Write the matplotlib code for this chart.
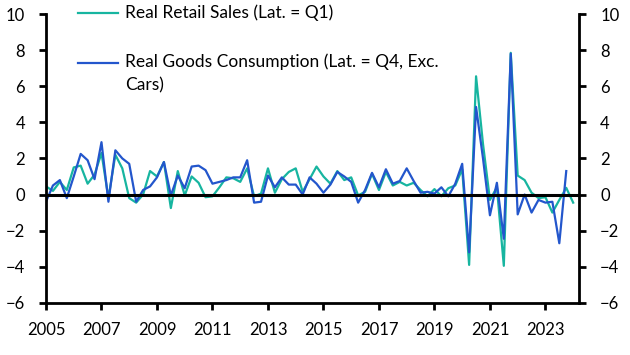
import matplotlib
matplotlib.use('Agg')
import matplotlib.pyplot as plt
from matplotlib.lines import Line2D
import numpy as np

plt.rcParams.update({
    'font.family': ['Lato', 'DejaVu Sans'],
    'font.size': 12,
})

# quarterly, % q/q
START_YEAR = 2005
RETAIL_LABEL = 'Real Retail Sales (Lat. = Q1)'
GOODS_LABEL = 'Real Goods Consumption (Lat. = Q4, Exc.\nCars)'

retail = [
    0.45, 0.2, 0.7, 0.25, 1.5, 1.6, 0.6, 1.1, 2.3, -0.2,
    2.2, 1.45, -0.2, -0.45, 0.0, 1.3, 1.0, 1.8, -0.75, 1.3,
    -0.05, 1.0, 0.65, -0.15, -0.1, 0.4, 0.95, 0.9, 0.7, 1.45,
    -0.1, 0.05, 1.45, 0.1, 0.85, 1.25, 1.45, 0.15, 0.85, 1.55,
    1.0, 0.6, 1.3, 0.8, 0.95, -0.05, 0.15, 1.15, 0.25, 1.25,
    0.5, 0.7, 0.5, 0.65, 0.25, -0.1, 0.3, -0.1, 0.35, 0.5,
    1.4, -3.9, 6.55, 2.8, -0.3, 0.4, -3.95, 7.85, 1.05, 0.8,
    0.1, -0.2, -0.15, -1.0, -0.3, 0.37, -0.45,
]

goods = [
    -0.4, 0.5, 0.8, -0.2, 1.0, 2.25, 1.9, 0.85, 2.9, -0.4,
    2.45, 2.0, 1.7, -0.4, 0.25, 0.45, 0.95, 1.8, -0.05, 1.05,
    0.35, 1.55, 1.6, 1.35, 0.6, 0.7, 0.8, 0.95, 0.95, 1.9,
    -0.45, -0.4, 1.05, 0.4, 0.95, 0.55, 0.55, 0.0, 0.95, 0.6,
    0.1, 0.55, 1.25, 1.0, 0.7, -0.45, 0.25, 1.2, 0.4, 1.4,
    0.6, 0.75, 1.45, 0.75, 0.1, 0.15, 0.05, 0.4, -0.1, 0.6,
    1.7, -3.2, 4.85, 2.0, -1.15, 0.65, -2.45, 7.8, -1.1, 0.0,
    -1.0, -0.3, -0.45, -0.4, -2.7, 1.3,
]

X_TICKS = list(range(2005, 2024, 2))
Y_TICKS = list(range(-6, 11, 2))

TEAL = '#17b5a0'
BLUE = '#2356cc'


def main():
    x_retail = START_YEAR + np.arange(len(retail)) / 4
    x_goods = START_YEAR + np.arange(len(goods)) / 4

    fig = plt.figure(figsize=(6.3, 3.55), dpi=100)
    ax = fig.add_axes([0.073, 0.147, 0.8465, 0.8135])

    ax.plot(x_retail, retail, color=TEAL, lw=1.6, zorder=2)
    ax.plot(x_goods, goods, color=BLUE, lw=1.6, zorder=2.5)
    ax.axhline(0, color='black', lw=2.2, zorder=3)

    ax.set_xlim(2005, 2024.22)
    ax.set_ylim(-6, 10)
    ax.set_xticks(X_TICKS)
    ax.set_yticks(Y_TICKS)

    for s in ['left', 'right', 'bottom']:
        ax.spines[s].set_linewidth(2)
    ax.spines['top'].set_visible(False)
    ax.tick_params(axis='both', direction='out', length=5, width=2,
                   labelsize=12)
    ax.tick_params(axis='y', right=True, labelright=True, pad=10)
    ax.tick_params(axis='x', pad=9)

    # legend drawn by hand so the handle sits on the first text line
    entries = [(TEAL, RETAIL_LABEL, 1.003), (BLUE, GOODS_LABEL, 0.830)]
    for color, label, yy in entries:
        ax.add_line(Line2D([0.06, 0.135], [yy, yy], color=color, lw=1.6,
                           transform=ax.transAxes, clip_on=False))
        multi = '\n' in label
        ax.text(0.148, yy + (0.033 if multi else 0), label,
                transform=ax.transAxes, ha='left',
                va='top' if multi else 'center', fontsize=12.5,
                linespacing=1.55)

    fig.savefig('out.png', dpi=100)
    plt.close(fig)


if __name__ == '__main__':
    main()
